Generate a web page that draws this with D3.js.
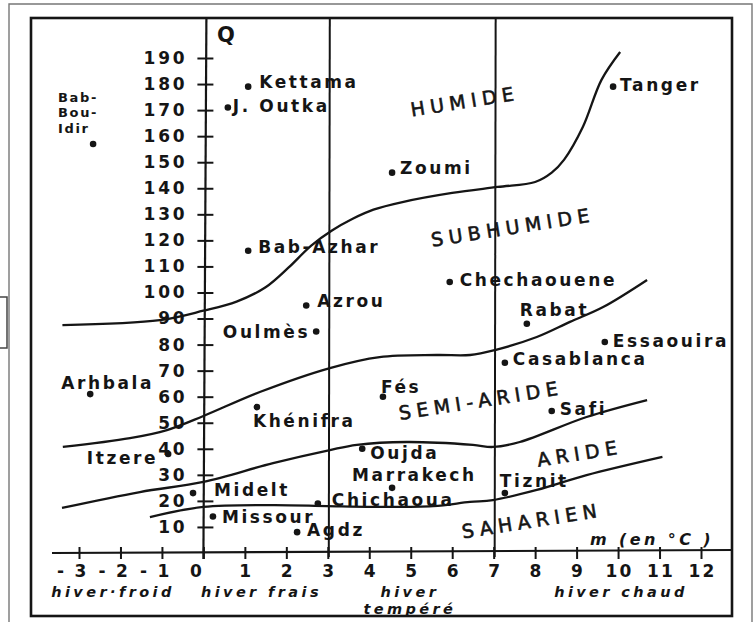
<!DOCTYPE html>
<html><head><meta charset="utf-8">
<script src="https://cdn.jsdelivr.net/npm/d3@7"></script>
<style>body{margin:0;background:#fff}svg{display:block}</style>
</head><body>
<svg id="c" width="755" height="622"></svg>
<script>
// ---------- data ----------
const mTicks = [-3,-2,-1,0,1,2,3,4,5,6,7,8,9,10,11,12];
const qTicks = [10,20,30,40,50,60,70,80,90,100,110,120,130,140,150,160,170,180,190];
const winterBounds = [0, 3, 7];                  // vertical separators (m)
const winterLabels = [["hiver·froid"],["hiver frais"],["hiver","tempéré"],["hiver chaud"]];
const winterLabelM = [-2.18, 1.4, 4.98, 10.07];

const zoneNames = ["HUMIDE","SUBHUMIDE","SEMI-ARIDE","ARIDE","SAHARIEN"];
const zoneM = [6.33, 7.49, 6.72, 9.1, 7.95];
const zoneQ = [170.8, 122.5, 56, 35.7, 9.8];

// bioclimatic boundaries [m, Q]
const humideSubhumide = [[-3.4,87.5],[-1.05,89.4],[0,93],[0.8,96.5],[1.5,102],[2.05,109.5],[2.6,118],[3.1,123.8],[3.6,128.3],[4.1,131.8],[4.8,134.7],[6.0,138.2],[7.1,140.5],[8.0,142.4],[8.4,146],[8.7,151],[9.15,163.5],[9.6,181.6],[10.05,192.3]];
const subhumideSemiaride = [[-3.39,40.7],[-1.77,44.1],[-0.88,47.2],[0,52.6],[1.36,61.8],[3.05,71],[4.25,75.2],[5.63,76],[6.43,76],[7.03,77.9],[8.04,82.9],[8.84,88.7],[9.64,94.4],[10.7,104.8]];
const semiarideAride = [[-3.41,17.3],[-1.53,23.4],[0,27.3],[1.68,34.5],[3.05,39.5],[3.7,41.5],[4.9,42.6],[6.5,41.5],[6.98,40.7],[7.63,42.6],[9.24,52.2],[10.7,58.7]];
const arideSaharien = [[-1.29,13.8],[0,17.7],[1.68,18.4],[2.98,18],[4.09,17.7],[5.54,18],[6.43,19.6],[6.98,20.3],[8.04,24.2],[9.24,29.9],[11.07,36.9]];

const stationNames = ["Bab-Bou-Idir","Kettama","J. Outka","Zoumi","Tanger","Bab-Azhar","Chechaouene","Azrou","Oulmès","Rabat","Essaouira","Casablanca","Fés","Khénifra","Arhbala","Safi","Oujda","Marrakech","Itzere","Midelt","Chichaoua","Tiznit","Missour","Agdz"];
const stationM = [-2.66,1.08,0.59,4.55,9.88,1.08,5.94,2.48,2.72,7.8,9.68,7.27,4.33,1.29,-2.73,8.4,3.83,4.55,-0.85,-0.25,2.76,7.27,0.23,2.26];
const stationQ = [157,179,171,146,179,116,104,95,85,88,81,73,60,56,61,54.5,40,25,38,23,19,23,14,8];

// ---------- layout (label offsets in px) ----------
const labelLayout = {
  "Bab-Bou-Idir":{dx:-35,dy:-42,anchor:"start",lines:["Bab-","Bou-","Idir"]},
  "Kettama":{dx:11,dy:1,anchor:"start"},
  "J. Outka":{dx:5,dy:4,anchor:"start"},
  "Zoumi":{dx:8,dy:1,anchor:"start"},
  "Tanger":{dx:7,dy:4,anchor:"start"},
  "Bab-Azhar":{dx:10,dy:2,anchor:"start"},
  "Chechaouene":{dx:10,dy:4,anchor:"start"},
  "Azrou":{dx:11,dy:1,anchor:"start"},
  "Oulmès":{dx:-6,dy:6,anchor:"end"},
  "Rabat":{dx:-7,dy:-8,anchor:"start"},
  "Essaouira":{dx:8,dy:5,anchor:"start"},
  "Casablanca":{dx:8,dy:2,anchor:"start"},
  "Fés":{dx:-2,dy:-4,anchor:"start"},
  "Khénifra":{dx:-4,dy:20,anchor:"start"},
  "Arhbala":{dx:-29,dy:-5,anchor:"start"},
  "Safi":{dx:8,dy:4,anchor:"start"},
  "Oujda":{dx:8,dy:10,anchor:"start"},
  "Marrakech":{dx:-40,dy:-7,anchor:"start"},
  "Itzere":{dx:-10,dy:10,anchor:"end"},
  "Midelt":{dx:21,dy:3,anchor:"start"},
  "Chichaoua":{dx:14,dy:2,anchor:"start"},
  "Tiznit":{dx:-5,dy:-6,anchor:"start"},
  "Missour":{dx:9,dy:6,anchor:"start"},
  "Agdz":{dx:10,dy:4,anchor:"start"}
};

// ---------- drawing ----------
const ink = "#151515";
const FONT = '"DejaVu Sans","Liberation Sans",sans-serif';
const svg = d3.select("#c");
svg.append("rect").attr("width",755).attr("height",622).attr("fill","#fff");

const x = d3.scaleLinear().domain([-3,12]).range([79,701]);
const y = d3.scaleLinear().domain([0,190]).range([553,58]);

// page frames (scan decoration)
svg.append("path").attr("d","M9,622V4H752V622").attr("fill","none").attr("stroke","#777").attr("stroke-width",1.4);
svg.append("path").attr("d","M-2,297H7V348H-2").attr("fill","none").attr("stroke","#444").attr("stroke-width",1.5);
svg.append("rect").attr("x",31).attr("y",18).attr("width",701).attr("height",598)
  .attr("fill","none").attr("stroke",ink).attr("stroke-width",2.6);

// vertical winter separators
svg.selectAll("line.sep").data(winterBounds.filter(d=>d!==0)).join("line").attr("class","sep")
  .attr("x1",d=>x(d)+2).attr("x2",d=>x(d)+1).attr("y1",18).attr("y2",y(0)+4)
  .attr("stroke",ink).attr("stroke-width",2);

// y axis
svg.append("line").attr("x1",x(0)+3).attr("x2",x(0)).attr("y1",18).attr("y2",y(0)+6)
  .attr("stroke",ink).attr("stroke-width",2.2);
const gy = svg.append("g").attr("transform",`translate(${x(0)+1},0)`)
  .call(d3.axisLeft(y).tickValues(qTicks).tickSize(7).tickPadding(10));
gy.select(".domain").remove();
gy.selectAll(".tick line").attr("x1",9).attr("x2",-7).attr("stroke",ink).attr("stroke-width",2);
gy.selectAll(".tick text").attr("font-family",FONT).attr("font-size",17).attr("font-weight","bold")
  .attr("fill",ink).style("letter-spacing","2.8px");

// x axis
svg.append("line").attr("x1",52).attr("x2",732).attr("y1",y(0)).attr("y2",y(0)-3)
  .attr("stroke",ink).attr("stroke-width",2.2);
const gx = svg.append("g").attr("transform",`translate(0,${y(0)})`)
  .call(d3.axisBottom(x).tickValues(mTicks).tickSize(5).tickFormat(d => d<0 ? "- "+(-d) : String(d)));
gx.select(".domain").remove();
gx.selectAll(".tick line").attr("y1",-6).attr("y2",6).attr("stroke",ink).attr("stroke-width",2);
gx.selectAll(".tick text").attr("font-family",FONT).attr("font-size",17).attr("font-weight","bold")
  .attr("fill",ink).style("letter-spacing","2.2px").attr("y",23.5).attr("dy",0)
  .attr("text-anchor",d=>d<0?"end":"middle").attr("x",d=>d<0?9:(d===0?-7:1));

// Q and m labels
svg.append("text").attr("x",217).attr("y",42).text("Q").attr("font-family",FONT)
  .attr("font-size",21).attr("font-weight","bold").attr("fill",ink);
svg.append("text").attr("x",590).attr("y",545).text("m  (en °C )").attr("font-family",FONT)
  .attr("font-size",16).attr("font-style","italic").attr("font-weight","bold").attr("fill",ink)
  .style("letter-spacing","3.4px");

// winter category labels
winterLabels.forEach((lines,i)=>{
  lines.forEach((s,j)=>svg.append("text").attr("font-family",FONT).attr("font-size",14.5).attr("font-style","italic")
    .attr("font-weight","bold").attr("fill",ink).attr("text-anchor","middle").style("letter-spacing","3.4px")
    .attr("x",x(winterLabelM[i])).attr("y",597+j*17).text(s));
});

// boundary curves
const line = d3.line().x(d=>x(d[0])).y(d=>y(d[1])).curve(d3.curveCatmullRom.alpha(0.5));
[humideSubhumide, subhumideSemiaride, semiarideAride, arideSaharien].forEach(c=>{
  svg.append("path").attr("d",line(c)).attr("fill","none").attr("stroke",ink).attr("stroke-width",2.3);
});

// zone labels
zoneNames.forEach((n,i)=>{
  svg.append("text").attr("transform",`translate(${x(zoneM[i])},${y(zoneQ[i])}) rotate(-9)`)
    .attr("text-anchor","middle").attr("font-family",FONT).attr("font-size",19)
    .attr("fill",ink).attr("stroke",ink).attr("stroke-width",0.6).style("letter-spacing","5.5px").text(n);
});

// stations
const stations = stationNames.map((n,i)=>({n, m:stationM[i], q:stationQ[i]}));
svg.selectAll("circle.st").data(stations).join("circle").attr("class","st")
  .attr("cx",d=>x(d.m)).attr("cy",d=>y(d.q)).attr("r",3.3).attr("fill",ink);
stations.forEach(d=>{
  const L = labelLayout[d.n];
  if (L.lines) {
    L.lines.forEach((s,j)=>svg.append("text").attr("font-family",FONT).attr("font-weight","bold")
      .attr("fill",ink).attr("font-size",13).style("letter-spacing","1.6px")
      .attr("x",x(d.m)+L.dx).attr("y",y(d.q)+L.dy+j*15.3).text(s));
  } else {
    svg.append("text").attr("font-family",FONT).attr("font-weight","bold").attr("fill",ink)
      .attr("text-anchor",L.anchor).attr("font-size",17).style("letter-spacing","2.6px")
      .attr("x",x(d.m)+L.dx).attr("y",y(d.q)+L.dy).text(d.n);
  }
});
</script>
</body></html>
